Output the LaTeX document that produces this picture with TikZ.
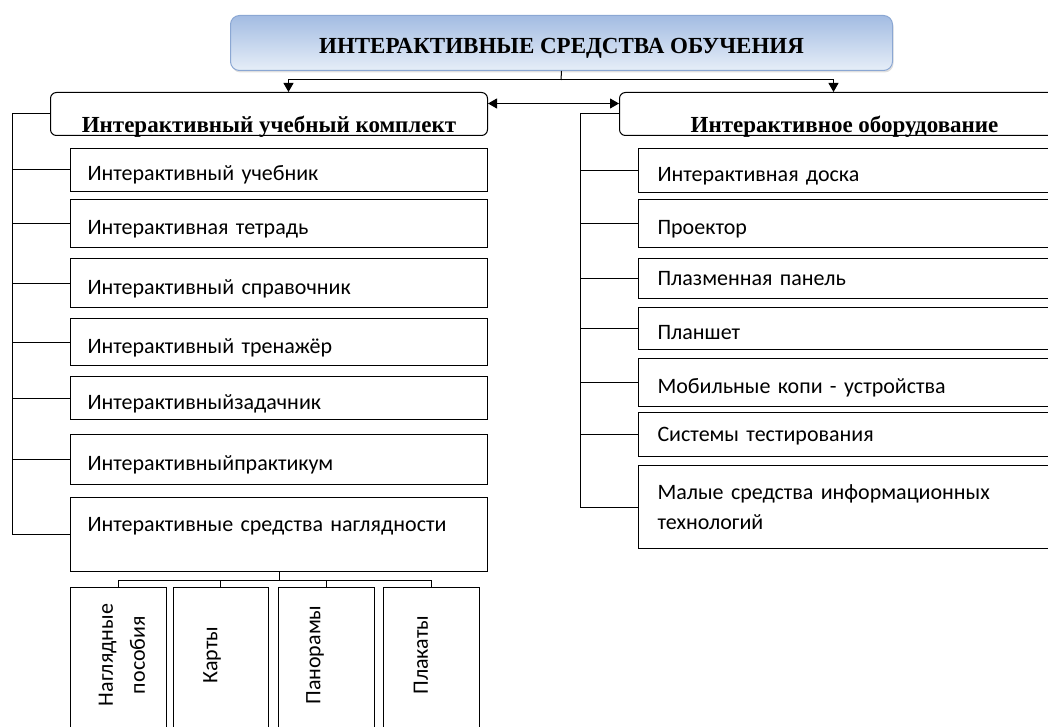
\documentclass[tikz,border=0pt]{standalone}
\usepackage{fontspec}
\setmainfont{Carlito}
\newfontfamily\headfont{Liberation Serif}
\usetikzlibrary{arrows.meta,shadows}

\definecolor{titletop}{HTML}{A3BCE2}
\definecolor{titlebottom}{HTML}{E6EEF8}
\definecolor{titleedge}{HTML}{8BA7D3}

\tikzset{
  titlebox/.style={draw=titleedge, line width=1pt, rounded corners=9pt,
    top color=titletop, bottom color=titlebottom, anchor=north west,
    font=\headfont\bfseries\fontsize{23}{27}\selectfont,
    text height=21pt, text depth=0pt,
    drop shadow={opacity=0.25, shadow xshift=1pt, shadow yshift=-2pt}},
  headbox/.style={draw, line width=1pt, rounded corners=6pt, anchor=north west,
    font=\headfont\bfseries\fontsize{23}{27}\selectfont,
    text height=40pt, text depth=3pt, inner ysep=0pt},
  itembox/.style={draw, line width=1pt, anchor=north west, align=left,
    font=\fontsize{22}{30}\selectfont, inner ysep=1pt,
    text height=25pt, text depth=3pt},
  leftitem/.style={itembox, minimum width=417pt, inner xsep=17pt, text width=383pt},
  rightitem/.style={itembox, minimum width=430pt, inner xsep=19pt, text width=392pt},
  midtext/.style={text height=16pt, text depth=3pt},
  subbox/.style={draw, line width=1pt, anchor=north, minimum height=150pt},
  subtext/.style={rotate=90, align=center, font=\fontsize{22}{32}\selectfont},
  link/.style={line width=1pt},
  arrowlink/.style={-{Triangle[length=9pt,width=10pt]}}
}

\begin{document}
\begin{tikzpicture}[x=1pt, y=-1pt]
    \clip (0,0) rectangle (1048,727);

    % Title and the two groups
    \node[titlebox, minimum width=662pt, minimum height=55pt] (title) at (230,15)
        {ИНТЕРАКТИВНЫЕ СРЕДСТВА ОБУЧЕНИЯ};
    \node[headbox, minimum width=437pt, minimum height=43pt] (lhead) at (50,92)
        {Интерактивный учебный комплект};
    \node[headbox, minimum width=450pt, minimum height=43pt] (rhead) at (619,92)
        {Интерактивное оборудование};

    % Left column
    \node[leftitem, minimum height=43pt] (k1) at (70,148) {Интерактивный учебник};
    \node[leftitem, minimum height=48pt] (k2) at (70,199) {Интерактивная тетрадь};
    \node[leftitem, minimum height=49pt] (k3) at (70,258) {Интерактивный справочник};
    \node[leftitem, minimum height=47pt] (k4) at (70,318) {Интерактивный тренажёр};
    \node[leftitem, minimum height=43pt] (k5) at (70,376) {Интерактивныйзадачник};
    \node[leftitem, minimum height=50pt] (k6) at (70,434) {Интерактивныйпрактикум};
    \node[leftitem, minimum height=74pt, text height=14pt, text depth=20pt] (k7) at (70,497)
        {Интерактивные средства наглядности};

    % Right column
    \node[rightitem, minimum height=44pt] (o1) at (638,148) {Интерактивная доска};
    \node[rightitem, minimum height=48pt] (o2) at (638,199) {Проектор};
    \node[rightitem, minimum height=40pt, midtext] (o3) at (638,258) {Плазменная панель};
    \node[rightitem, minimum height=42pt] (o4) at (638,307) {Планшет};
    \node[rightitem, minimum height=48pt] (o5) at (638,358) {Мобильные копи - устройства};
    \node[rightitem, minimum height=44pt, midtext] (o6) at (638,412) {Системы тестирования};
    \node[rightitem, minimum height=83pt, text height=, text depth=] (o7) at (638,465)
        {Малые средства информационных\\технологий};

    % Visual aids
    \node[subbox, minimum width=96pt] (v1) at (118,587) {};
    \node[subbox, minimum width=95pt] (v2) at (220.5,587) {};
    \node[subbox, minimum width=96pt] (v3) at (326,587) {};
    \node[subbox, minimum width=96pt] (v4) at (431,587) {};
    \node[subtext] (t1) at (122,655) {Наглядные\\пособия};
    \node[subtext] (t2) at (212,655) {Карты};
    \node[subtext] (t3) at (315,655) {Панорамы};
    \node[subtext] (t4) at (421,655) {Плакаты};

    % Connectors from the title
    \coordinate (tsplit) at (561,80);
    \draw[link] (title.south) -- (tsplit);
    \draw[link, arrowlink] (tsplit) -| ([xshift=19.5pt]lhead.north);
    \draw[link, arrowlink] (tsplit) -| ([xshift=-11pt]rhead.north);
    \draw[link, {Triangle[length=9pt,width=10pt]}-{Triangle[length=9pt,width=10pt]}]
        ([yshift=10.5pt]lhead.east) -- ([yshift=10.5pt]rhead.west);

    % Buses
    \draw[link] (lhead.west) -- ++(-38,0) coordinate (lbus) |- (k7.west);
    \draw[link] (rhead.west) -- ++(-39,0) coordinate (rbus) |- (o7.west);
    \foreach \i in {1,...,6} {
        \draw[link] (lbus |- k\i.west) -- (k\i.west);
        \draw[link] (rbus |- o\i.west) -- (o\i.west);
    }

    % Split below the visual aids box
    \draw[link] (k7.south) -- ++(0,8) coordinate (vsplit);
    \foreach \i in {1,...,4}
        \draw[link] (vsplit) -| (v\i.north);
\end{tikzpicture}
\end{document}
